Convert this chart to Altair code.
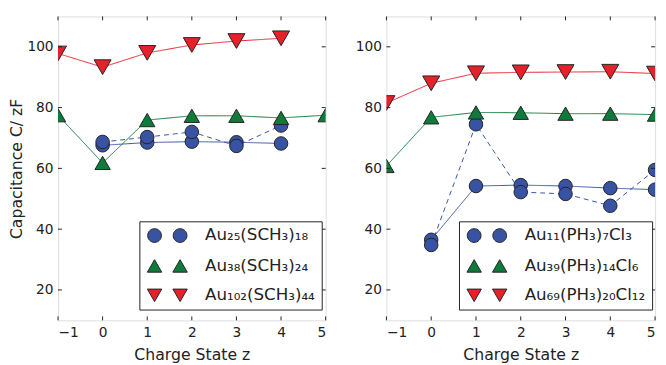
import altair as alt
import pandas as pd

# ---------------- data ----------------
names_L = ["Au₂₅(SCH₃)₁₈", "Au₃₈(SCH₃)₂₄", "Au₁₀₂(SCH₃)₄₄"]
names_R = ["Au₁₁(PH₃)₇Cl₃", "Au₃₉(PH₃)₁₄Cl₆", "Au₆₉(PH₃)₂₀Cl₁₂"]

z_red_L = [-1, 0, 1, 2, 3, 4]
cap_red_L = [97.8, 93.3, 98.0, 100.6, 101.9, 102.8]
z_green_L = [-1, 0, 1, 2, 3, 4, 5]
cap_green_L = [77.5, 61.8, 75.9, 77.3, 77.3, 76.6, 77.5]
z_blue_L = [0, 1, 2, 3, 4]
cap_blue_solid_L = [67.6, 68.5, 68.8, 68.6, 68.2]
cap_blue_dashed_L = [68.7, 70.3, 72.0, 67.4, 74.1]

z_red_R = [-1, 0, 1, 2, 3, 4, 5]
cap_red_R = [81.5, 88.0, 91.3, 91.6, 91.7, 91.8, 91.2]
z_green_R = [-1, 0, 1, 2, 3, 4, 5]
cap_green_R = [60.8, 76.8, 78.4, 78.3, 78.0, 78.0, 77.7]
z_blue_R = [0, 1, 2, 3, 4, 5]
cap_blue_solid_R = [36.5, 54.2, 54.5, 54.2, 53.5, 53.0]
cap_blue_dashed_R = [34.8, 74.5, 52.2, 51.6, 47.7, 59.5]

x_ticks = [-1, 0, 1, 2, 3, 4, 5]
y_ticks = [20, 40, 60, 80, 100]

colors = ["#3953A4", "#0F7B3A", "#E8202A"]
shapes = ["circle", "triangle-up", "triangle-down"]
sizes = [190, 300, 300]

W_L, W_R, H = 273, 274, 310
INK = "#222222"
FONT = "DejaVu Sans"


def frame(blue_z, blue_solid, blue_dashed, green_z, green, red_z, red, names):
    rows = []
    for z, c in zip(blue_z, blue_solid):
        rows.append(dict(z=z, cap=c, series=names[0], variant="solid"))
    for z, c in zip(blue_z, blue_dashed):
        rows.append(dict(z=z, cap=c, series=names[0], variant="dashed"))
    for z, c in zip(green_z, green):
        rows.append(dict(z=z, cap=c, series=names[1], variant="solid"))
    for z, c in zip(red_z, red):
        rows.append(dict(z=z, cap=c, series=names[2], variant="solid"))
    df = pd.DataFrame(rows)
    df["marker"] = df["series"]
    return df


# legend symbols: two markers side by side (unit coords, scaled by sqrt(size)/2)
def circ(cx, r=1.0):
    return (f"M{cx - r},0A{r},{r} 0 1,0 {cx + r},0A{r},{r} 0 1,0 {cx - r},0Z")


def tri(cx, up, w=1.05, h=0.91):
    if up:
        return f"M{cx},{-h}L{cx - w},{h}L{cx + w},{h}Z"
    return f"M{cx},{h}L{cx - w},{-h}L{cx + w},{-h}Z"


D = 1.86
leg_paths = [circ(-D) + circ(D), tri(-D, True) + tri(D, True), tri(-D, False) + tri(D, False)]


def panel(df, names, width, show_title, legx, legy):
    xscale = alt.Scale(domain=[-1, 5], nice=False, zero=False)
    yscale = alt.Scale(domain=[10, 110], nice=False, zero=False)
    xaxis = alt.Axis(values=x_ticks, ticks=False, domain=False, grid=False,
                     labelPadding=5, labelFontSize=14, labelFont=FONT, labelColor=INK,
                     title="Charge State z", titleFont=FONT, titleFontSize=16,
                     titleFontWeight="normal", titleColor=INK, titlePadding=8)
    yaxis = alt.Axis(values=y_ticks, ticks=False, domain=False, grid=False,
                     labelPadding=5, labelFontSize=14, labelFont=FONT, labelColor=INK,
                     title="Capacitance C/ zF" if show_title else None,
                     titleFont=FONT, titleFontSize=16, titleFontWeight="normal",
                     titleColor=INK, titlePadding=2)
    legend = alt.Legend(
        title=None, orient="none", legendX=legx, legendY=legy,
        symbolSize=196, symbolStrokeColor=INK, symbolStrokeWidth=1,
        symbolOffset=14,
        labelOffset=30, labelFont=FONT, labelFontSize=17, labelColor=INK,
        labelLimit=0, strokeColor=INK, fillColor="white", padding=6,
        rowPadding=12, cornerRadius=0)
    cscale = alt.Scale(domain=names, range=colors)
    X = alt.X("z:Q", scale=xscale, axis=xaxis, title="Charge State z")
    Y = alt.Y("cap:Q", scale=yscale, axis=yaxis)
    base = alt.Chart(df)
    lines = base.mark_line(strokeWidth=1, clip=True).encode(
        x=X, y=Y, color=alt.Color("series:N", scale=cscale, legend=None),
        strokeDash=alt.StrokeDash("variant:N", scale=alt.Scale(domain=["solid", "dashed"],
                                  range=[[1, 0], [5, 4]]), legend=None),
        detail="variant:N",
    )
    points = base.mark_point(filled=True, opacity=1, stroke=INK, strokeWidth=1,
                             clip=True).encode(
        x=X, y=Y, color=alt.Color("series:N", scale=cscale, legend=None),
        shape=alt.Shape("marker:N", scale=alt.Scale(domain=names, range=shapes), legend=None),
        size=alt.Size("marker:N", scale=alt.Scale(domain=names, range=sizes), legend=None),
    )
    # legend-only layer (no rows drawn): supplies the paired-marker legend symbols
    legend_layer = base.transform_filter("false").mark_point(
        filled=True, opacity=1, stroke=INK, strokeWidth=1).encode(
        x=X, y=Y,
        color=alt.Color("series:N", scale=cscale, legend=legend),
        shape=alt.Shape("series:N", scale=alt.Scale(domain=names, range=leg_paths),
                        legend=legend),
    )
    ytick_df = pd.DataFrame({"v": y_ticks})
    xtick_df = pd.DataFrame({"v": x_ticks})
    YT = alt.Y("v:Q", scale=yscale, axis=yaxis)
    XT = alt.X("v:Q", scale=xscale, axis=xaxis)
    lt = alt.Chart(ytick_df).mark_rule(color=INK, strokeWidth=1).encode(
        y=YT, x=alt.value(0), x2=alt.value(4))
    rt = alt.Chart(ytick_df).mark_rule(color=INK, strokeWidth=1).encode(
        y=YT, x=alt.value(width - 4), x2=alt.value(width))
    tt = alt.Chart(xtick_df).mark_rule(color=INK, strokeWidth=1).encode(
        x=XT, y=alt.value(0), y2=alt.value(4))
    bt = alt.Chart(xtick_df).mark_rule(color=INK, strokeWidth=1).encode(
        x=XT, y=alt.value(H - 4), y2=alt.value(H))
    return alt.layer(lines, points, legend_layer, lt, rt, tt, bt).resolve_scale(
        color="independent", shape="independent", size="independent"
    ).resolve_legend(color="independent", shape="independent").properties(
        width=width, height=H)


dfL = frame(z_blue_L, cap_blue_solid_L, cap_blue_dashed_L, z_green_L, cap_green_L,
            z_red_L, cap_red_L, names_L)
dfR = frame(z_blue_R, cap_blue_solid_R, cap_blue_dashed_R, z_green_R, cap_green_R,
            z_red_R, cap_red_R, names_R)

left = panel(dfL, names_L, W_L, True, 83, 209)
right = panel(dfR, names_R, W_R, False, 74, 209)

chart = alt.hconcat(left, right, spacing=28).resolve_scale(
    color="independent", shape="independent", size="independent", strokeDash="independent"
).resolve_legend(color="independent", shape="independent").properties(
    padding={"left": 0, "top": 4, "right": 2, "bottom": 0}
).configure_view(stroke=INK, strokeWidth=1, strokeOpacity=1).configure(background="white")

chart.save("out.html", embed_options={"renderer": "svg", "actions": False})
